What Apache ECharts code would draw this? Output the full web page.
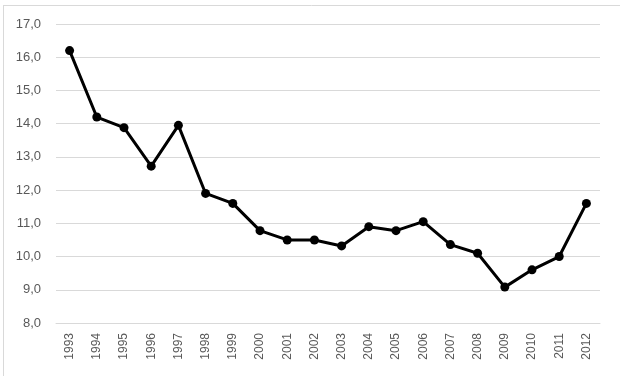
<!DOCTYPE html>
<html><head><meta charset="utf-8">
<script src="https://cdn.jsdelivr.net/npm/echarts@6/dist/echarts.min.js"></script>
<style>html,body{margin:0;padding:0;background:#fff}#c{width:624px;height:381px}</style>
</head><body><div id="c"></div>
<script>
const years = ['1993','1994','1995','1996','1997','1998','1999','2000','2001','2002','2003','2004','2005','2006','2007','2008','2009','2010','2011','2012'];
const values = [16.2,14.2,13.88,12.72,13.95,11.9,11.6,10.78,10.5,10.5,10.32,10.9,10.78,11.05,10.36,10.1,9.08,9.6,10.0,11.6];
const yMin = 8, yMax = 17, yStep = 1;

const chart = echarts.init(document.getElementById('c'), null, {renderer:'canvas'});
chart.setOption({
  animation:false,
  backgroundColor:'#fff',
  grid:{left:56,right:24,top:24,bottom:58},
  graphic:[
    {type:'line',shape:{x1:3.5,y1:5,x2:3.5,y2:376},style:{stroke:'#d9d9d9',lineWidth:1}},
    {type:'line',shape:{x1:3,y1:5.5,x2:620,y2:5.5},style:{stroke:'#d9d9d9',lineWidth:1}}
  ],
  xAxis:{type:'category',data:years,boundaryGap:true,
    axisLine:{show:true,lineStyle:{color:'#d9d9d9'}},axisTick:{show:false},
    axisLabel:{rotate:90,color:'#595959',fontSize:12,fontFamily:'Liberation Sans, sans-serif',margin:10,interval:0}},
  yAxis:{type:'value',min:yMin,max:yMax,interval:yStep,
    axisLine:{show:false},axisTick:{show:false},
    splitLine:{lineStyle:{color:'#d9d9d9',width:1}},
    axisLabel:{color:'#595959',fontSize:13,fontFamily:'Liberation Sans, sans-serif',margin:15,
      formatter:v=>v.toFixed(1).replace('.',',')}},
  series:[{type:'line',data:values,symbol:'circle',symbolSize:9,
    lineStyle:{color:'#000',width:3},itemStyle:{color:'#000'}}]
});
</script></body></html>
